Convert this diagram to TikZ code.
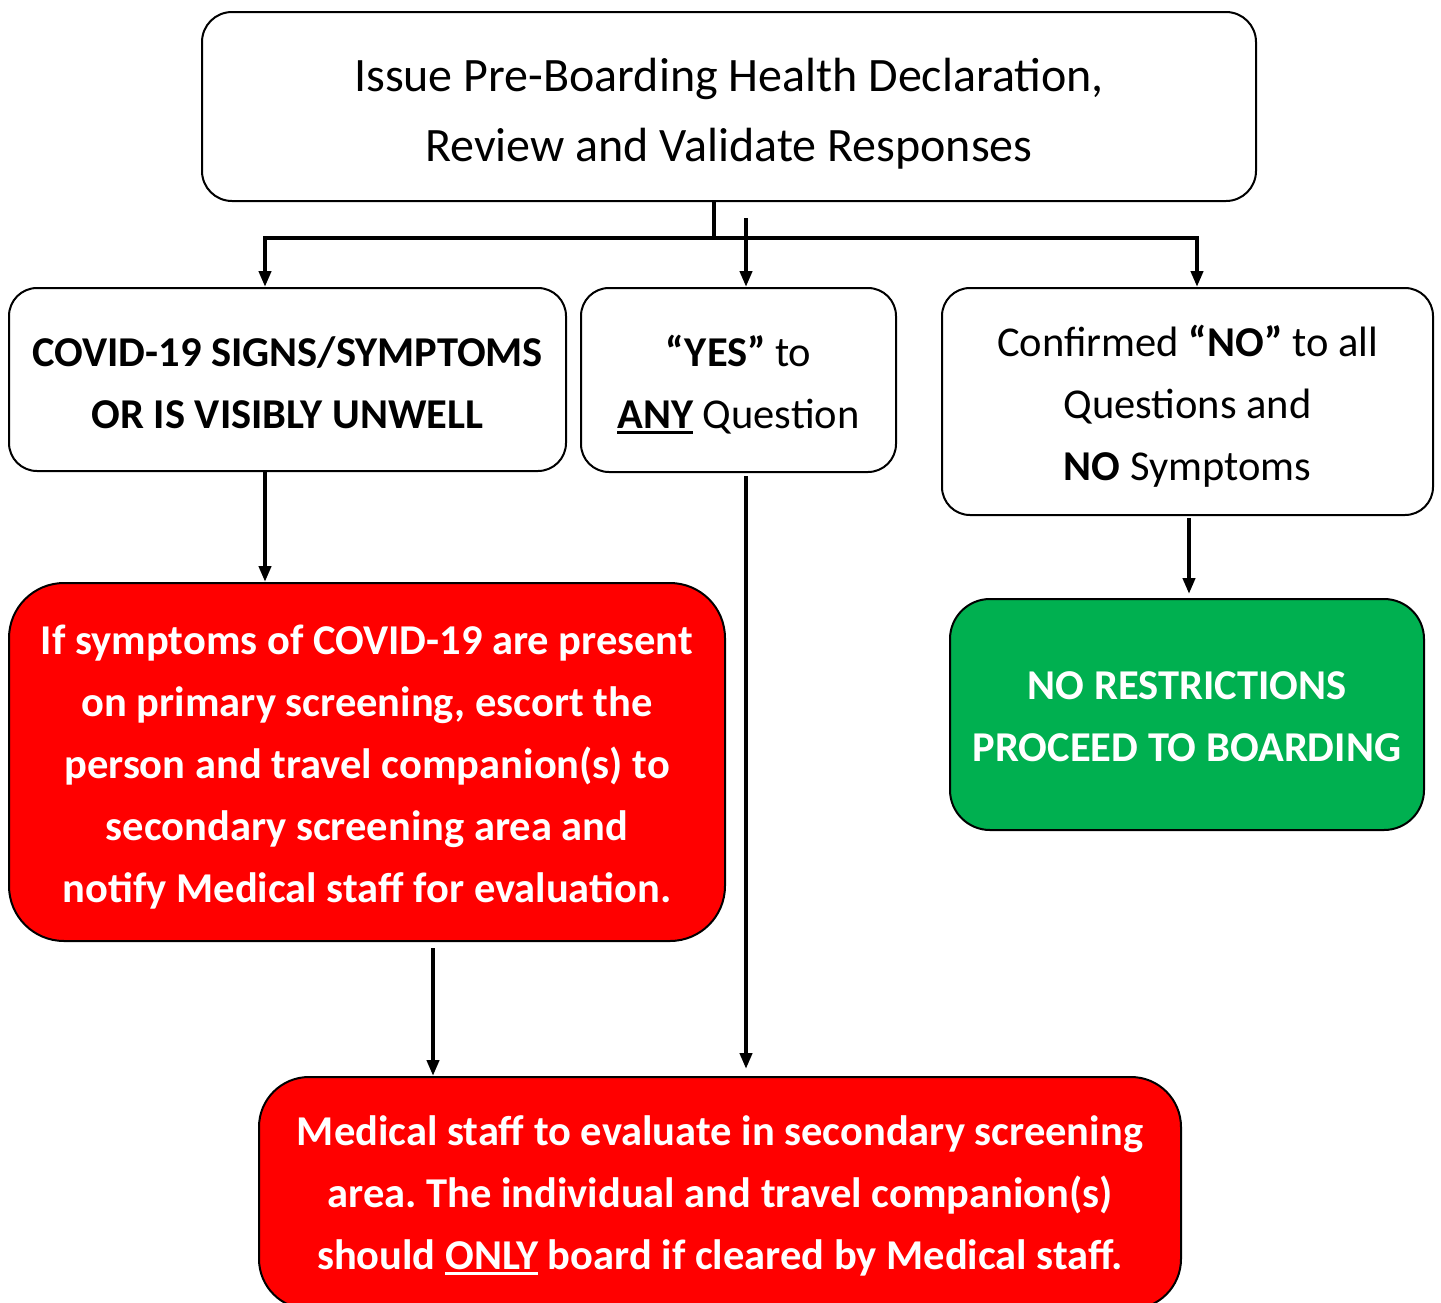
\documentclass[tikz,border=0pt]{standalone}
\usepackage{fontspec}
\setmainfont{Carlito}
\usetikzlibrary{arrows.meta}
\frenchspacing
\definecolor{boxred}{HTML}{FF0000}
\definecolor{boxgreen}{HTML}{00B050}
\newcommand{\thickul}[1]{\setbox0=\hbox{#1}\rlap{\rule[-5pt]{\wd0}{2.6pt}}\box0\relax}
\tikzset{
  every node/.style={inner sep=0pt},
  wbox/.style={draw=black, line width=2pt, fill=white},
  rbox/.style={draw=black, line width=2pt, fill=boxred},
  gbox/.style={draw=black, line width=2pt, fill=boxgreen},
  btext/.style={align=center, text=black, font=\fontsize{42.5}{62}\selectfont},
  wtext/.style={align=center, text=white, font=\fontsize{42.5}{62}\selectfont\bfseries},
  conn/.style={line width=4pt},
  arr/.style={line width=4pt, -{Triangle[length=16pt,width=12pt]}},
}
\begin{document}
\begin{tikzpicture}[x=1pt,y=-1pt]
\useasboundingbox (0,0) rectangle (1441,1302);
% boxes
\node[wbox, rounded corners=30pt, minimum width=1054pt, minimum height=189pt] (top) at (729,106.5) {};
\node[wbox, rounded corners=28pt, minimum width=557pt, minimum height=183pt] (A) at (287.5,379.5) {};
\node[wbox, rounded corners=28pt, minimum width=315pt, minimum height=184pt] (B) at (738.5,380) {};
\node[wbox, rounded corners=28pt, minimum width=491pt, minimum height=227pt] (C) at (1187.5,401.5) {};
\node[rbox, rounded corners=55pt, minimum width=716pt, minimum height=358pt] (R1) at (367,762) {};
\node[gbox, rounded corners=40pt, minimum width=474pt, minimum height=231pt] (G) at (1187,714.5) {};
\node[rbox, rounded corners=50pt, minimum width=922pt, minimum height=232pt] (Bot) at (720,1193) {};
% texts
\node[btext, font=\fontsize{48}{70}\selectfont] (ttop) at ([yshift=-7pt]top.center)
  {Issue Pre-Boarding Health Declaration,\\Review and Validate Responses};
\node[btext, font=\fontsize{42.5}{62}\selectfont\bfseries] (tA) at ([yshift=-3pt]A.center)
  {COVID-19 SIGNS/SYMPTOMS\\OR IS VISIBLY UNWELL};
\node[btext] (tB) at ([yshift=-5pt]B.center)
  {\textbf{“YES”} to\\\textbf{\thickul{ANY}} Question};
\node[btext] (tC) at ([yshift=-5pt]C.center)
  {Confirmed \textbf{“NO”} to all\\Questions and\\\textbf{NO} Symptoms};
\node[wtext] (tR1) at ([yshift=-5pt]R1.center)
  {If symptoms of COVID-19 are present\\on primary screening, escort the\\person and travel companion(s) to\\secondary screening area and\\notify Medical staff for evaluation.};
\node[wtext] (tG) at ([yshift=-2pt]G.center)
  {NO RESTRICTIONS\\PROCEED TO BOARDING};
\node[wtext] (tBot) at ([yshift=-3pt]Bot.center)
  {Medical staff to evaluate in secondary screening\\area. The individual and travel companion(s)\\should \thickul{ONLY} board if cleared by Medical staff.};
% connectors
\coordinate (j) at (714,238);
\draw[conn] ([xshift=-15pt]top.south) -- (j);
\draw[arr] (j) -| ([xshift=-22.5pt]A.north);
\draw[arr] (j) -| ([xshift=9.5pt]C.north);
\draw[arr] ([xshift=17pt,yshift=-16pt]top.south) -- ([xshift=7.5pt]B.north);
\draw[arr] ([xshift=-22.5pt]A.south) -- ([xshift=-102pt]R1.north);
\draw[arr] ([xshift=1.5pt,yshift=-2pt]C.south) -- ([xshift=2pt,yshift=4pt]G.north);
\draw[arr] ([xshift=66pt,yshift=-6pt]R1.south) -- ([xshift=-287pt]Bot.north);
\draw[arr] ([xshift=7.5pt,yshift=-3pt]B.south) -- ([xshift=26pt,yshift=7pt]Bot.north);
\end{tikzpicture}
\end{document}
